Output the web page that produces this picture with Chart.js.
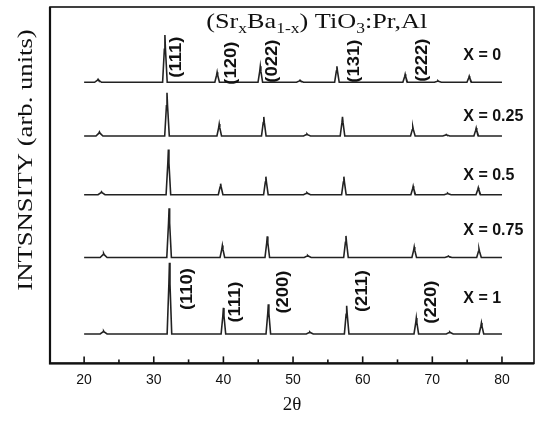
<!DOCTYPE html>
<html>
<head>
<meta charset="utf-8">
<script src="https://cdn.jsdelivr.net/npm/chart.js@4.4.0/dist/chart.umd.min.js"></script>
<style>
html, body { margin: 0; padding: 0; background: #fff; }
#wrap { width: 537px; height: 422px; }
</style>
</head>
<body>
<div id="wrap"><canvas id="chart"></canvas></div>
<script>
// 2theta tick labels
var xTicks = [20, 30, 40, 50, 60, 70, 80];
var xMinorTicks = [25, 35, 45, 55, 65, 75];

// composition of each trace, top to bottom
var compositions = ['X = 0', 'X = 0.25', 'X = 0.5', 'X = 0.75', 'X = 1'];

// baseline level of each trace (arb. units, stacked)
var baselines = [280, 226.5, 168, 105.5, 29.3];

// peak positions (2theta) and peak heights above the baseline
var peaksX0 = [22.0, 31.6, 39.1, 45.3, 51.0, 56.3, 66.1, 70.8, 75.3];
var heightsX0 = [3, 47, 10, 16, 2, 16, 8, 1.5, 6];
var peaksX025 = [22.2, 31.9, 39.4, 45.8, 52.0, 57.1, 67.2, 72.0, 76.3];
var heightsX025 = [4, 43, 12, 19, 2, 19, 9, 1.5, 8];
var peaksX05 = [22.5, 32.1, 39.6, 46.1, 52.0, 57.3, 67.25, 72.2, 76.6];
var heightsX05 = [3, 45, 11, 18, 2, 18, 8.5, 1.5, 7];
var peaksX075 = [22.8, 32.2, 39.85, 46.3, 52.1, 57.6, 67.4, 72.3, 76.7];
var heightsX075 = [4, 49, 12, 21, 2, 21.5, 10.5, 1.5, 8.5];
var peaksX1 = [22.8, 32.25, 40.0, 46.45, 52.4, 57.7, 67.7, 72.5, 77.05];
var heightsX1 = [3, 71, 26, 29.5, 2, 28, 16, 2, 11];

// Miller indices written over the top and bottom traces
var hklTop = ['(111)', '(120)', '(022)', '(131)', '(222)'];
var hklTopPos = [33.3, 41.2, 47.1, 58.9, 68.6];
var hklBottom = ['(110)', '(111)', '(200)', '(211)', '(220)'];
var hklBottomPos = [34.9, 41.7, 48.6, 60.0, 69.9];

var allPeaks = [peaksX0, peaksX025, peaksX05, peaksX075, peaksX1];
var allHeights = [heightsX0, heightsX025, heightsX05, heightsX075, heightsX1];

// each peak drawn as a sharp spike on the flat baseline
function makeTrace(base, pos, h) {
    var pts = [{x: 20, y: base}];
    pos.forEach(function(p, i) {
        var hw = h[i] < 5 ? 0.5 : 0.33;
        pts.push({x: p - hw, y: base});
        pts.push({x: p - 0.08, y: base + h[i] * 0.7});
        pts.push({x: p, y: base + h[i]});
        pts.push({x: p + 0.08, y: base + h[i] * 0.7});
        pts.push({x: p + hw, y: base});
    });
    pts.push({x: 80, y: base});
    return pts;
}

var datasets = compositions.map(function(name, i) {
    return {
        label: name,
        data: makeTrace(baselines[i], allPeaks[i], allHeights[i]),
        borderColor: '#222',
        borderWidth: 1.6,
        pointRadius: 0,
        tension: 0,
        fill: false
    };
});

var labelFont = 'bold 16px "Liberation Sans", Arial, sans-serif';
var serif = '"Liberation Serif", "Times New Roman", serif';

var decor = {
    id: 'decor',
    afterDraw: function(chart) {
        var ctx = chart.ctx;
        var a = chart.chartArea;
        var xs = chart.scales.x, ys = chart.scales.y;
        ctx.save();

        // frame
        ctx.strokeStyle = '#111';
        ctx.lineWidth = 1.6;
        ctx.strokeRect(a.left, a.top, a.right - a.left, a.bottom - a.top);
        ctx.lineWidth = 2.2;
        ctx.beginPath();
        ctx.moveTo(a.left, a.top);
        ctx.lineTo(a.left, a.bottom);
        ctx.lineTo(a.right, a.bottom);
        ctx.stroke();

        // inward ticks
        ctx.lineWidth = 1.6;
        xTicks.forEach(function(v) {
            var px = xs.getPixelForValue(v);
            ctx.beginPath();
            ctx.moveTo(px, a.bottom);
            ctx.lineTo(px, a.bottom - 7);
            ctx.stroke();
        });
        xMinorTicks.forEach(function(v) {
            var px = xs.getPixelForValue(v);
            ctx.beginPath();
            ctx.moveTo(px, a.bottom);
            ctx.lineTo(px, a.bottom - 4);
            ctx.stroke();
        });

        ctx.fillStyle = '#111';

        // y axis title, the scan's lettering is stretched along the line
        ctx.save();
        ctx.translate(26, 160);
        ctx.rotate(-Math.PI / 2);
        ctx.scale(1.27, 1);
        ctx.font = '21px ' + serif;
        ctx.textAlign = 'center';
        ctx.textBaseline = 'middle';
        ctx.fillText('INTSNSITY (arb. units)', 0, 0);
        ctx.restore();

        // title with subscripts
        var parts = [['(Sr', 0], ['x', 1], ['Ba', 0], ['1-x', 1], [') TiO', 0], ['3', 1], [':Pr,Al', 0]];
        var big = '21px ' + serif, small = '14px ' + serif;
        var w = 0;
        parts.forEach(function(p) { ctx.font = p[1] ? small : big; w += ctx.measureText(p[0]).width; });
        ctx.save();
        ctx.translate(xs.getPixelForValue(53.4), ys.getPixelForValue(334));
        ctx.scale(1.25, 1);
        var tx = -w / 2;
        ctx.textBaseline = 'alphabetic';
        parts.forEach(function(p) {
            ctx.font = p[1] ? small : big;
            ctx.fillText(p[0], tx, p[1] ? 5 : 0);
            tx += ctx.measureText(p[0]).width;
        });
        ctx.restore();

        // Miller indices, rotated
        ctx.font = labelFont;
        ctx.textAlign = 'center';
        ctx.textBaseline = 'middle';
        var topY = [305, 299, 301, 301, 302];
        var botY = [74, 61, 71, 72, 61];
        function vtext(t, x, y) {
            ctx.save();
            ctx.translate(xs.getPixelForValue(x), ys.getPixelForValue(y));
            ctx.rotate(-Math.PI / 2);
            ctx.scale(1.15, 1);
            ctx.fillText(t, 0, 0);
            ctx.restore();
        }
        hklTop.forEach(function(t, i) { vtext(t, hklTopPos[i], topY[i]); });
        hklBottom.forEach(function(t, i) { vtext(t, hklBottomPos[i], botY[i]); });

        // composition labels
        var compY = [307, 246, 187, 132, 65];
        ctx.textAlign = 'left';
        compositions.forEach(function(t, i) {
            ctx.fillText(t, xs.getPixelForValue(74.45), ys.getPixelForValue(compY[i]));
        });
        ctx.restore();
    }
};

var ctx = document.getElementById('chart').getContext('2d');
new Chart(ctx, {
    type: 'line',
    data: { datasets: datasets },
    options: {
        responsive: true,
        maintainAspectRatio: false,
        animation: false,
        layout: { padding: { left: 50, right: 3, top: 7, bottom: 0 } },
        plugins: { legend: { display: false }, tooltip: { enabled: false } },
        scales: {
            x: {
                type: 'linear',
                min: 15.1,
                max: 84.6,
                afterBuildTicks: function(scale) {
                    scale.ticks = xTicks.map(function(v) { return { value: v }; });
                },
                grid: { display: false, drawTicks: false },
                border: { display: false },
                ticks: {
                    padding: 8,
                    color: '#111',
                    font: { family: '"Liberation Sans", Arial, sans-serif', size: 14 }
                },
                title: {
                    display: true,
                    text: '2θ',
                    color: '#111',
                    font: { family: serif, size: 19 },
                    padding: { top: -3, bottom: 6 }
                }
            },
            y: {
                type: 'linear',
                display: false,
                min: 0,
                max: 355
            }
        }
    },
    plugins: [decor]
});
</script>
</body>
</html>
